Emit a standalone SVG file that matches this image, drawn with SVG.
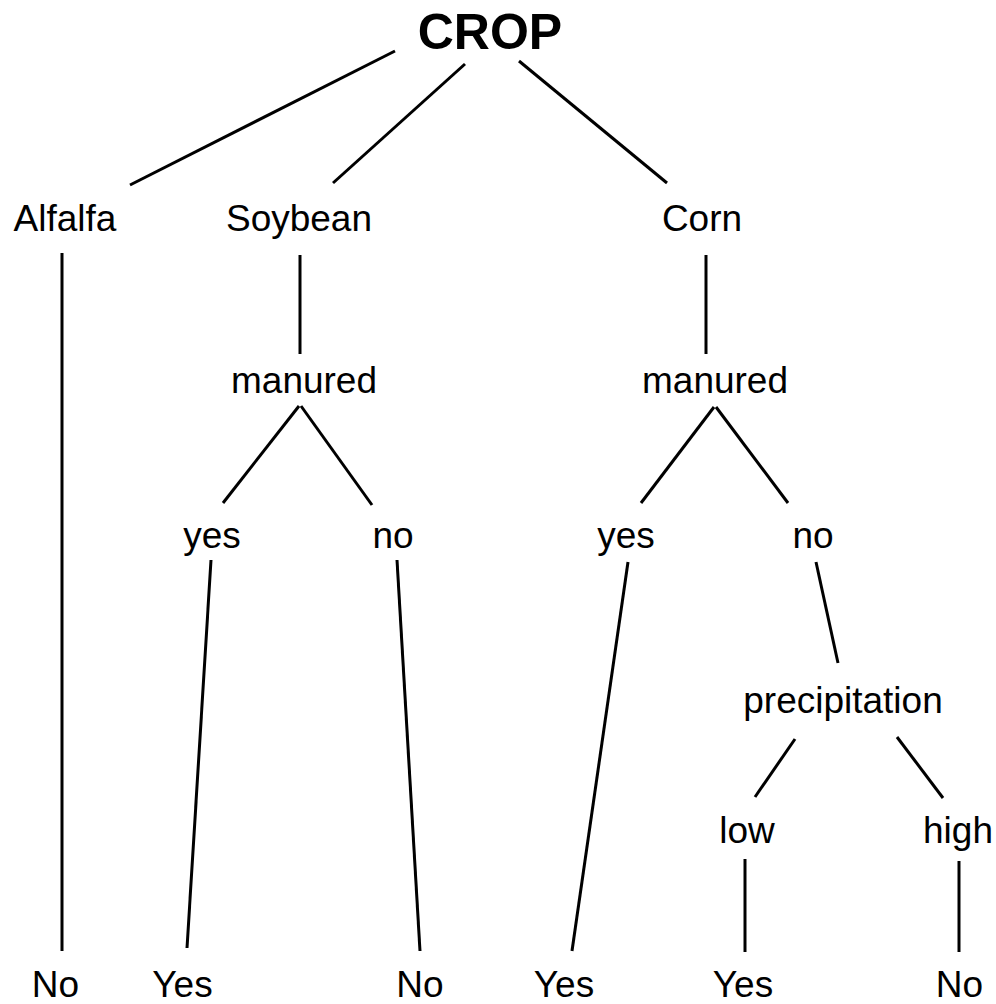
<svg xmlns="http://www.w3.org/2000/svg" width="996" height="1004" viewBox="0 0 996 1004">
<style>
.t{font-family:"Liberation Sans",Arial,Helvetica,sans-serif;font-size:37px;fill:#000;text-anchor:middle}
.b{font-weight:bold;font-size:50px}
.c line{stroke:#000;stroke-width:3;stroke-linecap:butt}
</style>
<rect width="996" height="1004" fill="#fff"/>
<g class="c" id="connectors">
<line x1="395" y1="51" x2="130" y2="185"/>
<line x1="465" y1="64" x2="333" y2="183"/>
<line x1="519" y1="61" x2="667" y2="183"/>
<line x1="62" y1="253" x2="62" y2="951"/>
<line x1="300" y1="255" x2="300" y2="354"/>
<line x1="706" y1="255" x2="706" y2="354"/>
<line x1="299" y1="406" x2="223" y2="503"/>
<line x1="301" y1="406" x2="372" y2="505"/>
<line x1="714" y1="407" x2="641" y2="503"/>
<line x1="716" y1="407" x2="788" y2="503"/>
<line x1="211" y1="560" x2="187" y2="948"/>
<line x1="397" y1="560" x2="420" y2="951"/>
<line x1="628" y1="562" x2="572" y2="951"/>
<line x1="816" y1="562" x2="838" y2="663"/>
<line x1="795" y1="739" x2="755" y2="797"/>
<line x1="897" y1="737" x2="943" y2="798"/>
<line x1="745" y1="859" x2="745" y2="952"/>
<line x1="959" y1="861" x2="959" y2="952"/>
</g>
<g id="crop"><text class="t b" x="490" y="49">CROP</text></g>
<g id="alfalfa"><text class="t" x="65" y="231">Alfalfa</text></g>
<g id="soybean"><text class="t" x="299" y="231">Soybean</text></g>
<g id="corn"><text class="t" x="702" y="231">Corn</text></g>
<g id="manured1"><text class="t" x="304" y="393">manured</text></g>
<g id="manured2"><text class="t" x="715" y="393">manured</text></g>
<g id="yes1"><text class="t" x="212" y="548">yes</text></g>
<g id="no1"><text class="t" x="393" y="548">no</text></g>
<g id="yes2"><text class="t" x="626" y="548">yes</text></g>
<g id="no2"><text class="t" x="813" y="548">no</text></g>
<g id="precipitation"><text class="t" x="843" y="713">precipitation</text></g>
<g id="low"><text class="t" x="747" y="843">low</text></g>
<g id="high"><text class="t" x="958" y="843">high</text></g>
<g id="leaf1"><text class="t" x="55.5" y="997">No</text></g>
<g id="leaf2"><text class="t" x="182.5" y="997">Yes</text></g>
<g id="leaf3"><text class="t" x="420" y="997">No</text></g>
<g id="leaf4"><text class="t" x="564" y="997">Yes</text></g>
<g id="leaf5"><text class="t" x="743" y="997">Yes</text></g>
<g id="leaf6"><text class="t" x="959.5" y="997">No</text></g>
</svg>
